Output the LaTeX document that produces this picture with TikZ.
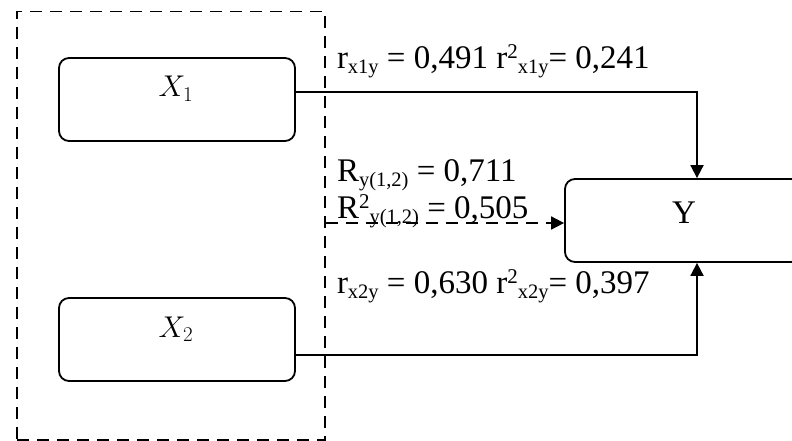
\RequirePackage{fix-cm}
\documentclass[tikz,border=0pt]{standalone}
\usepackage{fontspec}
\setmainfont{Liberation Serif}
\usetikzlibrary{arrows.meta,calc}
\newcommand\sbs[1]{\raisebox{-5pt}{\fontsize{20.5}{20.5}\selectfont #1}}
\newcommand\sps[1]{\raisebox{10pt}{\fontsize{21}{21}\selectfont #1}}
\begin{document}
\begin{tikzpicture}[x=1pt,y=-1pt,
  varbox/.style={draw, line width=1.8pt, rounded corners=10pt, minimum width=236pt, minimum height=83pt, inner sep=0pt},
  grpbox/.style={draw, line width=1.6pt, dash pattern=on 12pt off 8pt, minimum width=308pt, minimum height=428.5pt, inner sep=0pt},
  conn/.style={line width=1.8pt, -{Triangle[width=13pt,length=13pt]}},
  dconn/.style={conn, dash pattern=on 12pt off 8pt},
  lbl/.style={anchor=base west, inner sep=0pt, outer sep=0pt, font=\fontsize{33}{36}\selectfont},
  vlbl/.style={anchor=base, inner sep=0pt, font=\fontsize{30}{30}\selectfont}]
\useasboundingbox (0,0) rectangle (792,441);
\node[grpbox] (grp) at (171,225.75) {};
\node[varbox] (X1) at (177,99.5) {};
\node[varbox] (X2) at (177,339.5) {};
\node[varbox] (Y) at (683,220.5) {};
\node[vlbl] (tX1) at (176,97) {$X_1$};
\node[vlbl] (tX2) at (176,337) {$X_2$};
\node[lbl, anchor=base] (tY) at (684,223) {Y};
\coordinate (d) at ([yshift=-2.5pt]Y.west);
\draw[conn] ([yshift=7.5pt]X1.east) -| ([xshift=14pt]Y.north);
\draw[conn] ([yshift=-15.5pt]X2.east) -| ([xshift=14pt]Y.south);
\draw[dconn] (grp.east |- d) -- (d);
\node[lbl] (l1) at (337,69) {r\sbs{x1y} = 0,491 r\sps{2}\sbs{x1y}= 0,241};
\node[lbl] (l2) at (337,181.5) {R\sbs{y(1,2)} = 0,711};
\node[lbl] (l3) at (337,218.5) {R\sps{2}\sbs{y(1,2)} = 0,505};
\node[lbl] (l4) at (337,293.5) {r\sbs{x2y} = 0,630 r\sps{2}\sbs{x2y}= 0,397};
\end{tikzpicture}
\end{document}
